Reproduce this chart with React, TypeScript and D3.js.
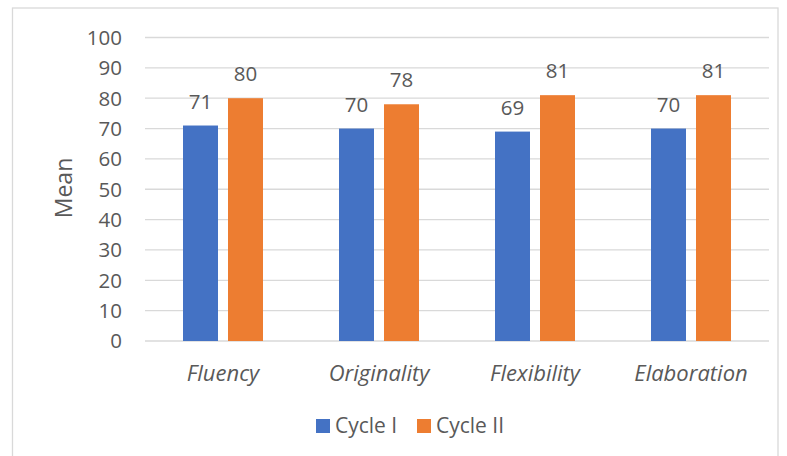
import React from "react";
import * as d3 from "d3";

const categories = ["Fluency", "Originality", "Flexibility", "Elaboration"];
const cycle1 = [71, 70, 69, 70];
const cycle2 = [80, 78, 81, 81];
const seriesNames = ["Cycle I", "Cycle II"];
const colors = ["#4472C4", "#ED7D31"];
const yTicks = [0, 10, 20, 30, 40, 50, 60, 70, 80, 90, 100];

const W = 787;
const H = 456;
const FONT = "'Open Sans', sans-serif";
const TXT = "#595959";
const FS = 20.5;

export default function App() {
  const x0 = d3.scaleBand<string>().domain(categories).range([145, 769]).paddingInner(0).paddingOuter(0);
  const y = d3.scaleLinear().domain([0, 100]).range([341, 37.5]);
  const barW = 35;
  const gap = 10;
  const series = [cycle1, cycle2];

  return (
    <svg width={W} height={H} style={{ position: "absolute", left: 0, top: 0 }}>
      <rect x={0} y={0} width={W} height={H} fill="#fff" />
      <rect x={12.5} y={8} width={765.5} height={460} fill="#fff" stroke="#d9d9d9" strokeWidth={1.3} />
      {yTicks.map((t) => (
        <g key={t}>
          <line x1={145} x2={769} y1={y(t)} y2={y(t)} stroke="#d9d9d9" strokeWidth={1.3} />
          <text x={122} y={y(t)} dy="0.36em" textAnchor="end" fontFamily={FONT} fontSize={FS} fill={TXT}>
            {t}
          </text>
        </g>
      ))}
      {categories.map((c, i) => {
        const cx = (x0(c) as number) + x0.bandwidth() / 2;
        return (
          <g key={c}>
            {series.map((s, k) => {
              const bx = k === 0 ? cx - gap / 2 - barW : cx + gap / 2;
              return (
                <g key={k}>
                  <rect x={bx} y={y(s[i])} width={barW} height={y(0) - y(s[i])} fill={colors[k]} />
                  <text x={bx + barW / 2} y={y(s[i]) - 17} textAnchor="middle" fontFamily={FONT} fontSize={FS} fill={TXT}>
                    {s[i]}
                  </text>
                </g>
              );
            })}
            <text x={cx} y={381} textAnchor="middle" fontFamily={FONT} fontStyle="italic" fontSize={22} fill={TXT}>
              {c}
            </text>
          </g>
        );
      })}
      <text transform="translate(72,188) rotate(-90)" textAnchor="middle" fontFamily={FONT} fontSize={23} fill={TXT}>
        Mean
      </text>
      {seriesNames.map((n, k) => {
        const lx = k === 0 ? 316 : 417;
        return (
          <g key={n}>
            <rect x={lx} y={419} width={14} height={14} fill={colors[k]} />
            <text x={lx + 19} y={433} fontFamily={FONT} fontSize={21} fill={TXT}>
              {n}
            </text>
          </g>
        );
      })}
    </svg>
  );
}
